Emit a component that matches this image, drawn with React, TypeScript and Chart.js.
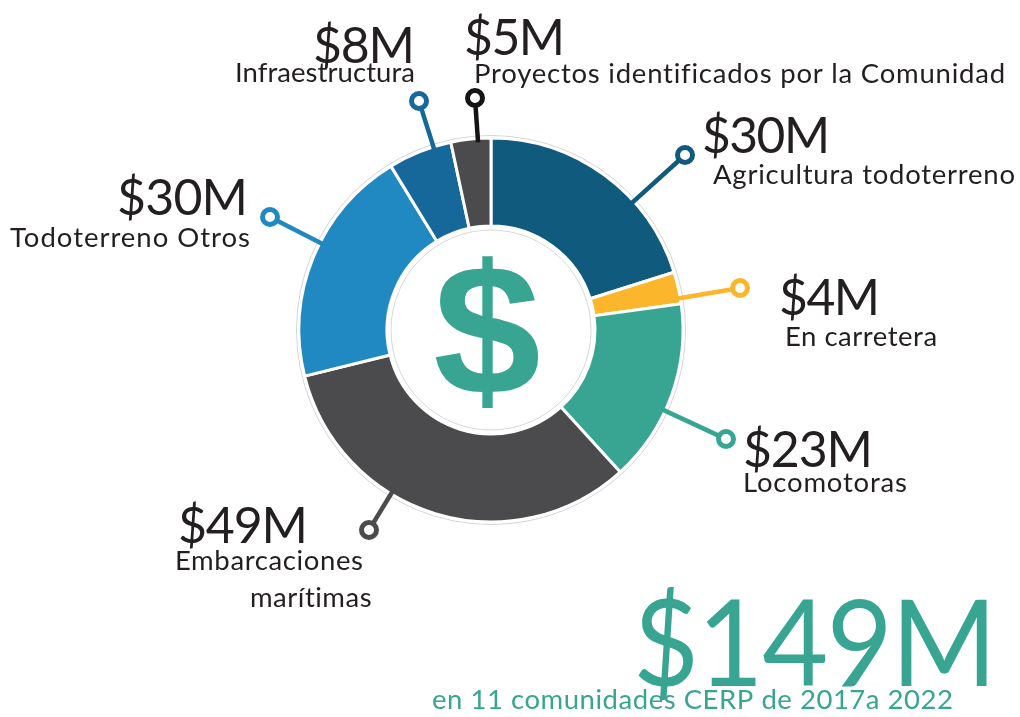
import React, { useEffect, useRef } from 'react';
import { Chart, registerables } from 'chart.js';

Chart.register(...registerables);

// ---------- data ----------
const categories = [
  'Agricultura todoterreno',
  'En carretera',
  'Locomotoras',
  'Embarcaciones marítimas',
  'Todoterreno Otros',
  'Infraestructura',
  'Proyectos identificados por la Comunidad',
];
const values = [30, 4, 23, 49, 30, 8, 5];
const valueLabels = ['$30M', '$4M', '$23M', '$49M', '$30M', '$8M', '$5M'];
const totalLabel = '$149M';
const subtitle = 'en 11 comunidades CERP de 2017a 2022';

// ---------- styles ----------
const segmentColors = ['#105a7e', '#fbb62c', '#38a593', '#4b4b4d', '#2089c1', '#17689a', '#4b4b4d'];
const markerColors = ['#105a7e', '#fbb62c', '#38a593', '#4b4b4d', '#2089c1', '#17689a', '#141414'];
const textColor = '#231f20';
const teal = '#38a593';
const FONT = 'Lato, "Open Sans", sans-serif';

// ---------- layout (label placement) ----------
type TextPos = { x: number; y: number; w: number };
type LabelLayout = { marker: [number, number]; value: TextPos; names: TextPos[] };
const labelLayout: LabelLayout[] = [
  { marker: [685, 155], value: { x: 702, y: 153, w: 128 }, names: [{ x: 713, y: 184, w: 302 }] },
  { marker: [740, 288], value: { x: 779, y: 315, w: 101 }, names: [{ x: 785, y: 346, w: 152 }] },
  { marker: [726, 439], value: { x: 743, y: 467, w: 130 }, names: [{ x: 743, y: 492, w: 164 }] },
  {
    marker: [369, 530],
    value: { x: 178, y: 543, w: 130 },
    names: [
      { x: 175, y: 570, w: 188 },
      { x: 250, y: 607, w: 122 },
    ],
  },
  { marker: [270, 217], value: { x: 117, y: 215, w: 131 }, names: [{ x: 10, y: 247, w: 240 }] },
  { marker: [419, 101], value: { x: 313, y: 63, w: 102 }, names: [{ x: 235, y: 82, w: 180 }] },
  { marker: [475, 98], value: { x: 464, y: 55, w: 101 }, names: [{ x: 474, y: 83, w: 531 }] },
];
const totalPos: TextPos = { x: 633, y: 686, w: 364 };
const subtitlePos: TextPos = { x: 432, y: 709, w: 521 };

function drawFitted(ctx: CanvasRenderingContext2D, text: string, p: TextPos, font: string, color: string) {
  ctx.save();
  ctx.font = font;
  ctx.fillStyle = color;
  ctx.textAlign = 'left';
  ctx.textBaseline = 'alphabetic';
  const anyCtx = ctx as any;
  const hasLS = 'letterSpacing' in anyCtx;
  if (hasLS) anyCtx.letterSpacing = '0px';
  const w = ctx.measureText(text).width;
  const n = Math.max(text.length - 1, 1);
  let ls = (p.w - w) / n;
  ls = Math.max(-1.5, Math.min(4, ls));
  if (!hasLS) ls = 0;
  const spacedW = w + ls * n;
  const sx = spacedW > p.w ? p.w / spacedW : 1;
  if (hasLS) anyCtx.letterSpacing = ls.toFixed(2) + 'px';
  ctx.translate(p.x, p.y);
  ctx.scale(sx, 1);
  ctx.fillText(text, 0, 0);
  ctx.restore();
}

const decorPlugin = {
  id: 'decor',
  beforeDatasetsDraw(chart: any) {
    const arc = chart.getDatasetMeta(0).data[0];
    if (!arc) return;
    const { x, y, outerRadius } = arc.getProps(['x', 'y', 'outerRadius'], true);
    const ctx = chart.ctx as CanvasRenderingContext2D;
    ctx.save();
    ctx.strokeStyle = '#d4d4d4';
    ctx.lineWidth = 1;
    ctx.beginPath();
    ctx.arc(x, y, outerRadius + 2.5, 0, Math.PI * 2);
    ctx.stroke();
    ctx.restore();
  },
  afterDraw(chart: any) {
    const meta = chart.getDatasetMeta(0);
    const ctx = chart.ctx as CanvasRenderingContext2D;
    const first = meta.data[0];
    const { x: cx, y: cy, outerRadius, innerRadius } = first.getProps(['x', 'y', 'outerRadius', 'innerRadius'], true);

    // inner circle outline
    ctx.save();
    ctx.strokeStyle = '#d8d8d8';
    ctx.lineWidth = 1;
    ctx.beginPath();
    ctx.arc(cx, cy, innerRadius - 4, 0, Math.PI * 2);
    ctx.stroke();
    ctx.restore();

    // central dollar sign
    ctx.save();
    ctx.fillStyle = teal;
    ctx.font = 'bold 186px "Liberation Sans", Arial, sans-serif';
    ctx.textAlign = 'center';
    ctx.textBaseline = 'alphabetic';
    ctx.translate(cx - 4, cy + 64);
    ctx.scale(1.04, 1);
    ctx.fillText('$', 0, 0);
    ctx.restore();

    // leader lines + markers + labels
    labelLayout.forEach((lay, i) => {
      const [mx, my] = lay.marker;
      const dx = mx - cx;
      const dy = my - cy;
      const d = Math.sqrt(dx * dx + dy * dy);
      const sx = cx + (dx / d) * (outerRadius - 4);
      const sy = cy + (dy / d) * (outerRadius - 4);
      const r = 7.5;
      ctx.save();
      ctx.strokeStyle = markerColors[i];
      ctx.lineWidth = 4.5;
      ctx.lineCap = 'butt';
      ctx.beginPath();
      ctx.moveTo(sx, sy);
      ctx.lineTo(mx - (dx / d) * r, my - (dy / d) * r);
      ctx.stroke();
      ctx.beginPath();
      ctx.arc(mx, my, r, 0, Math.PI * 2);
      ctx.fillStyle = '#ffffff';
      ctx.fill();
      ctx.lineWidth = 5;
      ctx.stroke();
      ctx.restore();

      drawFitted(ctx, valueLabels[i], lay.value, `400 50px ${FONT}`, textColor);
      const nameLines = lay.names.length > 1 ? categories[i].split(' ') : [categories[i]];
      lay.names.forEach((p, j) => {
        drawFitted(ctx, nameLines[j] ?? '', p, `400 27.5px ${FONT}`, textColor);
      });
    });

    drawFitted(ctx, totalLabel, totalPos, `400 120px ${FONT}`, teal);
    drawFitted(ctx, subtitle, subtitlePos, `400 27.5px ${FONT}`, teal);
  },
};

export default function App() {
  const ref = useRef<HTMLCanvasElement | null>(null);
  useEffect(() => {
    if (!ref.current) return;
    const chart = new Chart(ref.current, {
      type: 'doughnut',
      data: {
        labels: categories,
        datasets: [
          {
            data: values,
            backgroundColor: segmentColors,
            borderColor: '#ffffff',
            borderWidth: 3,
          },
        ],
      },
      options: {
        responsive: false,
        animation: false,
        devicePixelRatio: 1,
        cutout: 104,
        layout: { padding: { left: 297.5, top: 136.5, right: 335.5, bottom: 193.5 } },
        plugins: { legend: { display: false }, tooltip: { enabled: false } },
      },
      plugins: [decorPlugin],
    });
    return () => chart.destroy();
  }, []);
  return (
    <div style={{ position: 'absolute', left: 0, top: 0, width: 1020, height: 717, background: '#ffffff' }}>
      <canvas ref={ref} width={1020} height={717} />
    </div>
  );
}
